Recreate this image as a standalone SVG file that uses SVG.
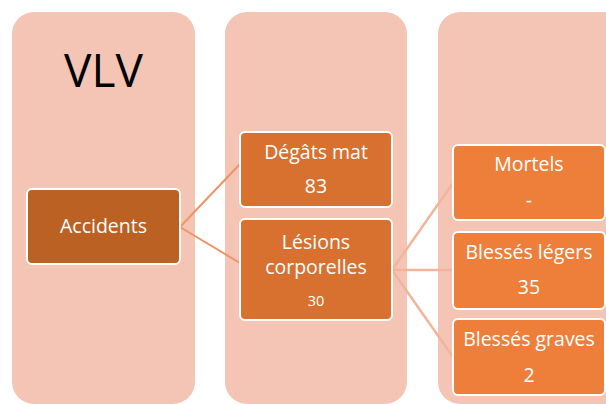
<svg xmlns="http://www.w3.org/2000/svg" width="606" height="404" viewBox="0 0 606 404">
<style>
.col{fill:#f4c5b5}
.box{stroke:#ffffff;stroke-width:2}
.b1{fill:#bc6124}
.b2{fill:#d8712f}
.b3{fill:#ed7f3b}
.t{font-family:"Open Sans","Liberation Sans",sans-serif;fill:#ffffff;text-anchor:middle;font-size:19.5px}
.title{font-family:"Open Sans","Liberation Sans",sans-serif;fill:#000000;text-anchor:middle;font-size:46px}
.c1{stroke:#ef9468;stroke-width:2;fill:none}
.c2{stroke:#f2b49c;stroke-width:2.5;fill:none}
</style>
<rect width="606" height="404" fill="#ffffff"/>
<g id="columns">
<rect class="col" x="12" y="12" width="183" height="392" rx="22"/>
<rect class="col" x="225" y="12" width="182" height="392" rx="22"/>
<rect class="col" x="438" y="12" width="200" height="392" rx="22"/>
<text class="title" x="103.5" y="87">VLV</text>
</g>
<g id="connectors">
<line class="c1" x1="180" y1="227" x2="240" y2="164"/>
<line class="c1" x1="180" y1="227" x2="240" y2="263"/>
<line class="c2" x1="392" y1="270" x2="453" y2="183"/>
<line class="c2" x1="392" y1="270" x2="453" y2="270"/>
<line class="c2" x1="392" y1="270" x2="453" y2="357"/>
</g>
<g id="accidents">
<rect class="box b1" x="27" y="189" width="153" height="75" rx="5"/>
<text class="t" x="103.5" y="233">Accidents</text>
</g>
<g id="degats">
<rect class="box b2" x="240" y="132" width="152" height="75" rx="5"/>
<text class="t" x="316" y="159">Dégâts mat</text>
<text class="t" x="316" y="193">83</text>
</g>
<g id="lesions">
<rect class="box b2" x="240" y="219" width="152" height="101" rx="5"/>
<text class="t" x="316" y="249">Lésions</text>
<text class="t" x="316" y="274">corporelles</text>
<text class="t" x="316" y="306" style="font-size:14.5px">30</text>
</g>
<g id="mortels">
<rect class="box b3" x="453" y="145" width="152" height="75" rx="5"/>
<text class="t" x="529" y="171">Mortels</text>
<text class="t" x="529" y="207">-</text>
</g>
<g id="legers">
<rect class="box b3" x="453" y="232" width="152" height="77" rx="5"/>
<text class="t" x="529" y="259">Blessés légers</text>
<text class="t" x="529" y="294">35</text>
</g>
<g id="graves">
<rect class="box b3" x="453" y="319" width="152" height="76" rx="5"/>
<text class="t" x="529" y="346">Blessés graves</text>
<text class="t" x="529" y="382">2</text>
</g>
</svg>
